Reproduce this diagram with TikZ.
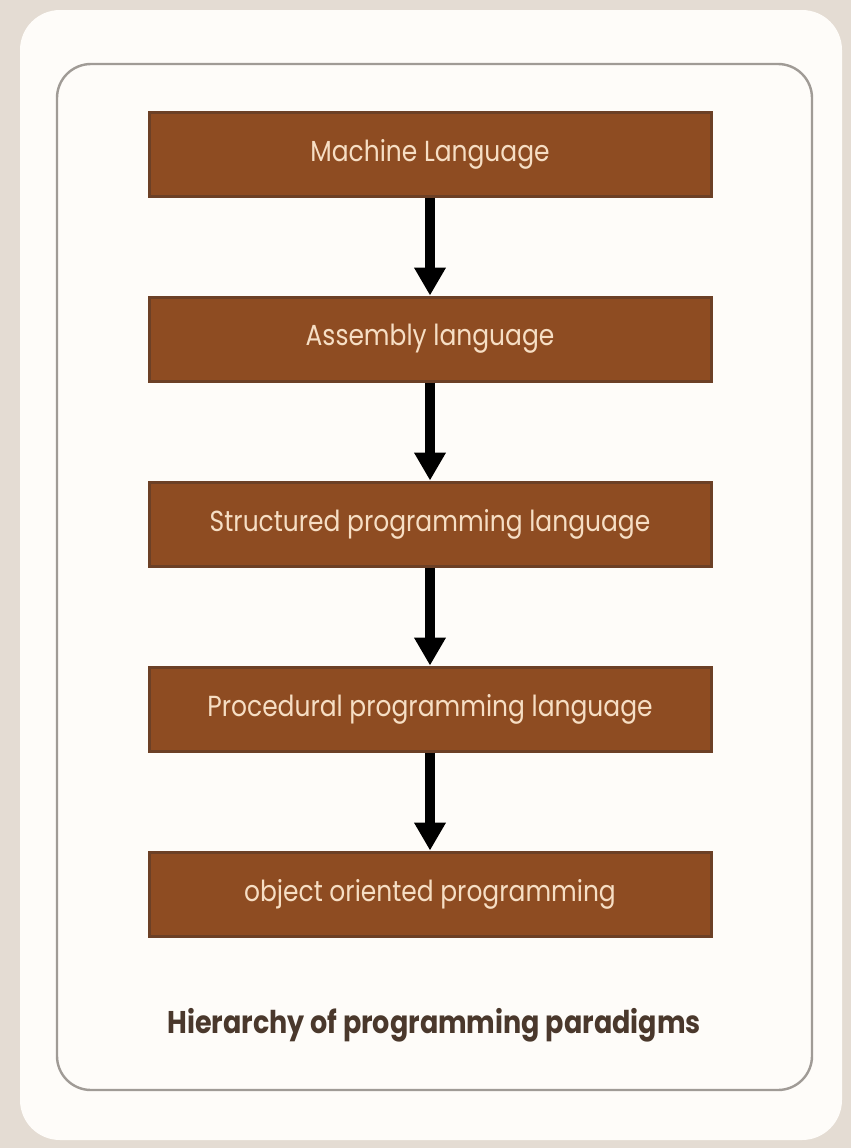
\documentclass[tikz,border=0pt]{standalone}
\usepackage{fontspec}
\setmainfont{Poppins}
\usepackage{graphicx}
\usetikzlibrary{positioning,arrows.meta}
\definecolor{page_beige}{RGB}{228,220,211}
\definecolor{card_white}{RGB}{254,252,249}
\definecolor{frame_gray}{RGB}{160,155,150}
\definecolor{stage_brown}{RGB}{142,76,34}
\definecolor{stage_edge}{RGB}{108,64,38}
\definecolor{stage_text}{RGB}{246,222,196}
\definecolor{caption_brown}{RGB}{74,56,44}
\newcommand{\narrowtext}[1]{\scalebox{0.86}[1]{#1}}

\begin{document}
\begin{tikzpicture}[x=0.5pt,y=-0.5pt,
					stage/.style={draw=stage_edge, fill=stage_brown, line width=1.5pt, minimum width=281pt, minimum height=42pt, inner sep=0pt, text=stage_text, font=\fontsize{14.5}{17}\selectfont},
					flow/.style={-{Triangle[width=15pt,length=14pt]}, line width=5pt, black},
					caption/.style={text=caption_brown, font=\fontsize{15.7}{19}\selectfont\bfseries},
					node distance=49pt,
				]
				% page and frames
				\fill[page_beige] (0,0) rectangle (851,1148);
				\fill[card_white, rounded corners=20pt] (20,10) rectangle (842,1140);
				\draw[frame_gray, line width=1.2pt, rounded corners=17pt] (57,64) rectangle (812,1090);

				\node[stage] (machine) at (430,154) {\narrowtext{Machine Language}};
				\node[stage,below=of machine] (assembly) {\narrowtext{Assembly language}};
				\node[stage,below=of assembly] (structured) {\narrowtext{Structured programming language}};
				\node[stage,below=of structured] (procedural) {\narrowtext{Procedural programming language}};
				\node[stage,below=of procedural] (objectoriented) {\narrowtext{object oriented programming}};

				\draw[flow] (machine) -- (assembly);
				\draw[flow] (assembly) -- (structured);
				\draw[flow] (structured) -- (procedural);
				\draw[flow] (procedural) -- (objectoriented);

				% caption
				\node[caption] (title) at (434,1025) {\narrowtext{Hierarchy of programming paradigms}};

			\end{tikzpicture}
\end{document}
